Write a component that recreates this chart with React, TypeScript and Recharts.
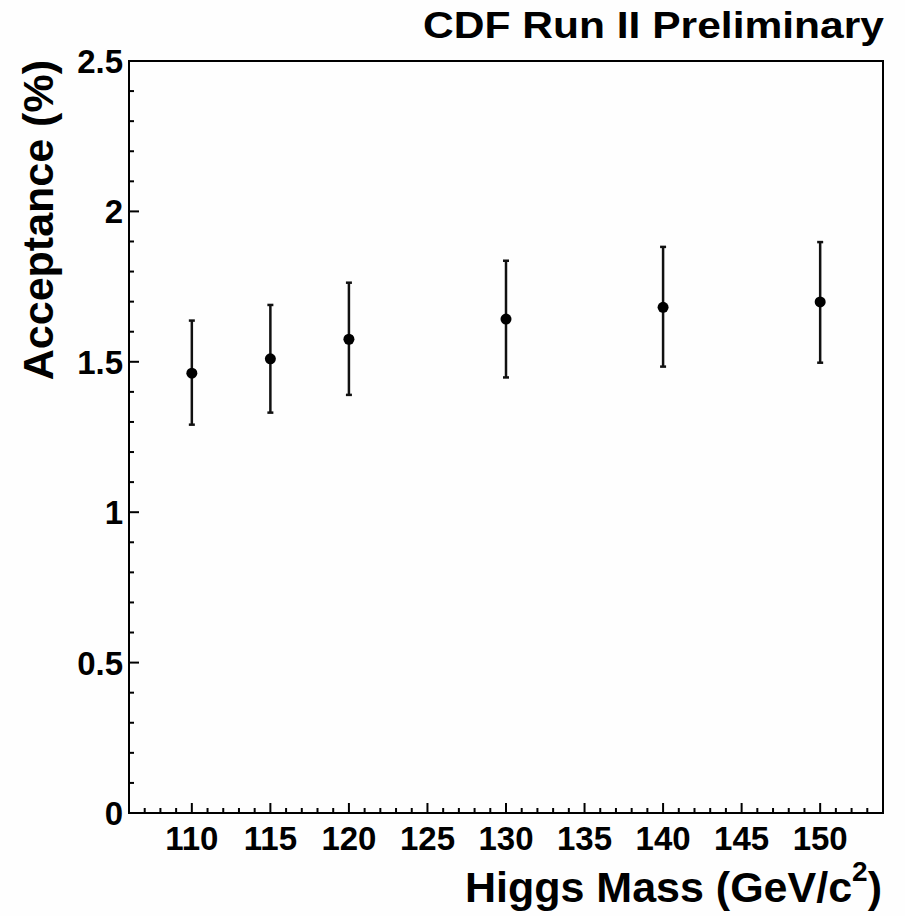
import { ErrorBar, ReferenceArea, Scatter, ScatterChart, XAxis, YAxis } from 'recharts';

const masses = [110, 115, 120, 130, 140, 150];
const acceptance = [1.462, 1.51, 1.575, 1.642, 1.681, 1.699];
const acceptanceLow = [1.291, 1.331, 1.39, 1.448, 1.484, 1.497];
const acceptanceHigh = [1.637, 1.689, 1.763, 1.836, 1.882, 1.898];

const xMajorTicks = [110, 115, 120, 125, 130, 135, 140, 145, 150];
const xMinorTicks = Array.from({ length: 49 }, (_, i) => 106 + i);
const yMajorTicks = [0, 0.5, 1, 1.5, 2, 2.5];
const yMinorTicks = Array.from({ length: 26 }, (_, i) => i / 10);

const data = masses.map((m, i) => ({
  mass: m,
  acc: acceptance[i],
  err: [acceptance[i] - acceptanceLow[i], acceptanceHigh[i] - acceptance[i]]
}));

const FONT = '"Liberation Sans", Arial, Helvetica, sans-serif';

function XTick({ x, y, payload }: any) {
  const v = payload.value;
  const major = xMajorTicks.includes(v);
  return (
    <g>
      <line x1={x} x2={x} y1={y} y2={y - (major ? 10 : 5)} stroke="#000" strokeWidth={2} />
      {major && (
        <text x={x} y={y + 37} textAnchor="middle" fontSize={33} fontWeight={700} fontFamily={FONT} fill="#000">
          {v}
        </text>
      )}
    </g>
  );
}

function YTick({ x, y, payload }: any) {
  const v = payload.value;
  const major = yMajorTicks.some((t) => Math.abs(t - v) < 1e-6);
  return (
    <g>
      <line x1={x} x2={x + (major ? 10 : 5)} y1={y} y2={y} stroke="#000" strokeWidth={2} />
      {major && (
        <text x={x - 6} y={y + 12} textAnchor="end" fontSize={33} fontWeight={700} fontFamily={FONT} fill="#000">
          {String(v)}
        </text>
      )}
    </g>
  );
}

function Dot({ cx, cy }: any) {
  return <circle cx={cx} cy={cy} r={5.5} fill="#000" />;
}

export default function App() {
  return (
    <div style={{ position: 'absolute', left: 0, top: 0, width: 905, height: 916, background: '#fefefe' }}>
      <ScatterChart width={905} height={916} margin={{ top: 61, right: 22, bottom: 63, left: 69 }}>
        <ReferenceArea x1={106} x2={154} y1={0} y2={2.5} fill="none" stroke="#000" strokeWidth={2} fillOpacity={0} />
        <XAxis
          type="number"
          dataKey="mass"
          domain={[106, 154]}
          ticks={xMinorTicks}
          interval={0}
          allowDataOverflow
          height={40}
          tickSize={0}
          tickMargin={0}
          tickLine={false}
          axisLine={{ stroke: '#000', strokeWidth: 2 }}
          tick={<XTick />}
        />
        <YAxis
          type="number"
          dataKey="acc"
          domain={[0, 2.5]}
          ticks={yMinorTicks}
          interval={0}
          allowDataOverflow
          width={60}
          tickSize={0}
          tickMargin={0}
          tickLine={false}
          axisLine={{ stroke: '#000', strokeWidth: 2 }}
          tick={<YTick />}
        />
        <Scatter data={data} fill="#000" shape={<Dot />} isAnimationActive={false}>
          <ErrorBar dataKey="err" direction="y" width={3} stroke="#111" strokeWidth={2.5} isAnimationActive={false} />
        </Scatter>
        <text
          x={884}
          y={38}
          textAnchor="end"
          fontSize={37}
          fontWeight={700}
          fontFamily={FONT}
          fill="#000"
          textLength={461}
          lengthAdjust="spacingAndGlyphs"
        >
          CDF Run II Preliminary
        </text>
        <text x={882} y={902} textAnchor="end" fontSize={43} fontWeight={700} fontFamily={FONT} fill="#000">
          Higgs Mass (GeV/c
          <tspan fontSize={28} dy={-21}>2</tspan>
          <tspan dy={21}>)</tspan>
        </text>
        <text
          x={0}
          y={0}
          transform="translate(53,60) rotate(-90)"
          textAnchor="end"
          fontSize={43}
          fontWeight={700}
          fontFamily={FONT}
          fill="#000"
        >
          Acceptance (%)
        </text>
      </ScatterChart>
    </div>
  );
}
